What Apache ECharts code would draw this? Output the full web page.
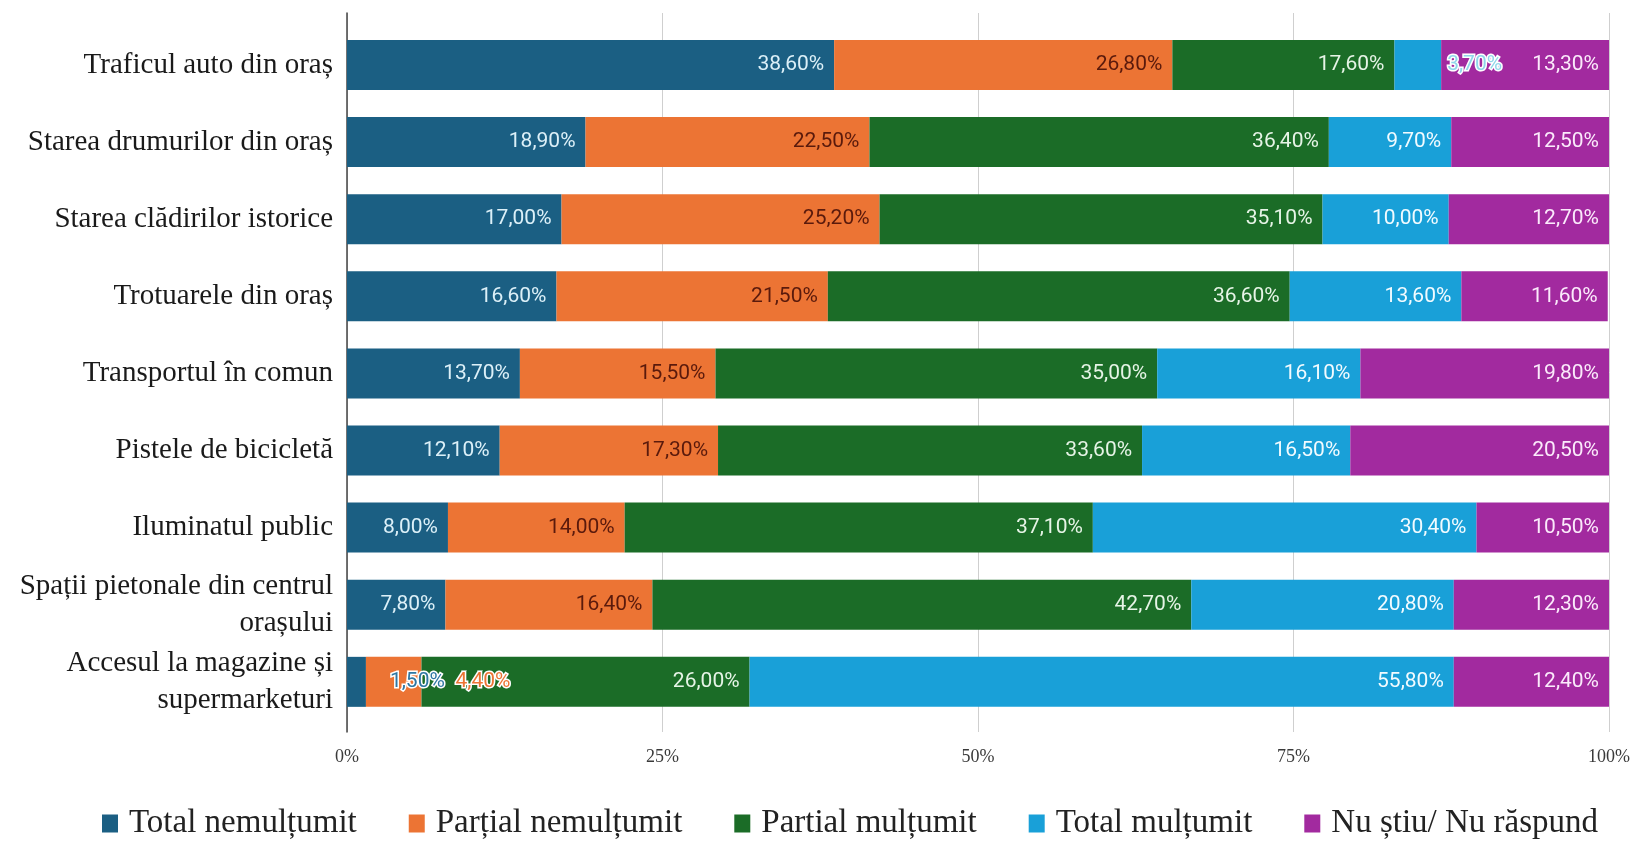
<!DOCTYPE html>
<html>
<head>
<meta charset="utf-8">
<script src="https://cdn.jsdelivr.net/npm/echarts@6/dist/echarts.min.js"></script>
<style>html,body{margin:0;padding:0;background:#fff;}#c{width:1640px;height:841px;}</style>
</head>
<body>
<div id="c"></div>
<script>
const categories = [
  "Traficul auto din oraș",
  "Starea drumurilor din oraș",
  "Starea clădirilor istorice",
  "Trotuarele din oraș",
  "Transportul în comun",
  "Pistele de bicicletă",
  "Iluminatul public",
  "Spații pietonale din centrul\norașului",
  "Accesul la magazine și\nsupermarketuri"
];
const seriesNames = ["Total nemulțumit", "Parțial nemulțumit", "Partial mulțumit", "Total mulțumit", "Nu știu/ Nu răspund"];
const totalNemultumit   = [38.6, 18.9, 17.0, 16.6, 13.7, 12.1, 8.0, 7.8, 1.5];
const partialNemultumit = [26.8, 22.5, 25.2, 21.5, 15.5, 17.3, 14.0, 16.4, 4.4];
const partialMultumit   = [17.6, 36.4, 35.1, 36.6, 35.0, 33.6, 37.1, 42.7, 26.0];
const totalMultumit     = [3.7, 9.7, 10.0, 13.6, 16.1, 16.5, 30.4, 20.8, 55.8];
const nuStiu            = [13.3, 12.5, 12.7, 11.6, 19.8, 20.5, 10.5, 12.3, 12.4];
const xTicks = ["0%", "25%", "50%", "75%", "100%"];

const values = [totalNemultumit, partialNemultumit, partialMultumit, totalMultumit, nuStiu];
const colors = ["#1b5f83", "#ec7434", "#1b6c27", "#19a0d8", "#a22a9f"];
const labelColors = ["#dcf0f8", "#5a1a0c", "#e6f4e6", "#f2fbff", "#fbeafb"];
// labels that sit outside their segment (with halo): [seriesIndex, categoryIndex, distance, fill]
const outsideLabels = [[3, 0, 6, "#8fd6ea"], [0, 8, 24, "#2f77a3"], [1, 8, 34, "#ec7434"]];

const fmt = v => v.toFixed(2).replace('.', ',') + '%';

const series = values.map((arr, si) => ({
  name: seriesNames[si],
  type: 'bar',
  stack: 'all',
  xAxisIndex: 1,
  yAxisIndex: 1,
  barWidth: 50,
  itemStyle: { color: colors[si] },
  label: {
    show: true,
    position: 'insideRight',
    distance: 10,
    color: labelColors[si],
    fontFamily: 'Roboto',
    fontSize: 21,
    formatter: p => fmt(p.value)
  },
  data: arr.map((v, ci) => {
    const o = outsideLabels.find(x => x[0] === si && x[1] === ci);
    if (!o) return v;
    return {
      value: v,
      label: {
        position: 'right',
        distance: o[2],
        color: o[3],
        textBorderColor: '#ffffff',
        textBorderWidth: 3
      }
    };
  })
}));

const chart = echarts.init(document.getElementById('c'), null, { renderer: 'canvas' });
chart.setOption({
  animation: false,
  backgroundColor: '#ffffff',
  grid: [
    { left: 347, width: 1262, top: 13, height: 719 },
    { left: 347, width: 1262, top: 26.4, height: 694 }
  ],
  xAxis: [
    {
      gridIndex: 0, type: 'value', min: 0, max: 100, interval: 25,
      axisLine: { show: false }, axisTick: { show: false },
      splitLine: { show: true, lineStyle: { color: '#cfcfcf', width: 1 } },
      axisLabel: {
        margin: 16, color: '#3a3a3a', fontFamily: 'Liberation Serif', fontSize: 18,
        formatter: v => xTicks[Math.round(v / 25)]
      }
    },
    {
      gridIndex: 1, type: 'value', min: 0, max: 100, show: false
    }
  ],
  yAxis: [
    {
      gridIndex: 0, type: 'category', data: [''],
      axisLine: { show: true, lineStyle: { color: '#444', width: 1.5 } },
      axisTick: { show: false }, axisLabel: { show: false }, splitLine: { show: false }
    },
    {
      gridIndex: 1, type: 'category', data: categories, inverse: true,
      axisLine: { show: false }, axisTick: { show: false }, splitLine: { show: false },
      axisLabel: {
        margin: 14, color: '#1a1a1a', fontFamily: 'Liberation Serif', fontSize: 29,
        lineHeight: 37, align: 'right'
      }
    }
  ],
  legend: {
    data: seriesNames,
    left: 97, top: 802,
    itemWidth: 16, itemHeight: 18, itemGap: 52,
    icon: 'rect',
    textStyle: { color: '#222', fontFamily: 'Liberation Serif', fontSize: 33, padding: [0, 0, 0, 6] }
  },
  series: series
});
</script>
</body>
</html>
